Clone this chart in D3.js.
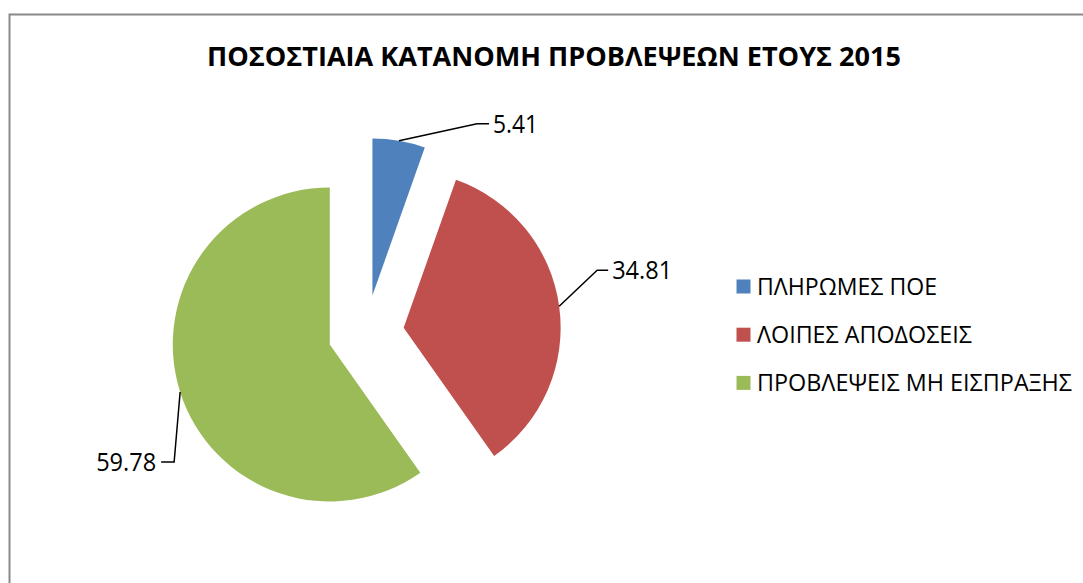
<!DOCTYPE html>
<html>
<head>
<meta charset="utf-8">
<script src="https://cdn.jsdelivr.net/npm/d3@7/dist/d3.min.js"></script>
<style>
  body { margin: 0; background: #fff; }
  text { font-family: "Open Sans", "Noto Sans", sans-serif; fill: #000; }
</style>
</head>
<body>
<div id="chart"></div>
<script>
// Data
const categories = ["ΠΛΗΡΩΜΕΣ ΠΟΕ", "ΛΟΙΠΕΣ ΑΠΟΔΟΣΕΙΣ", "ΠΡΟΒΛΕΨΕΙΣ ΜΗ ΕΙΣΠΡΑΞΗΣ"];
const values = [5.41, 34.81, 59.78];
const colors = ["#4F81BD", "#C0504D", "#9BBB59"];
const title = "ΠΟΣΟΣΤΙΑΙΑ ΚΑΤΑΝΟΜΗ ΠΡΟΒΛΕΨΕΩΝ ΕΤΟΥΣ 2015";

// Layout
const width = 1083, height = 583;
const cx = 366, cy = 333, radius = 157, explode = 38;

// Label leader line offsets (elbow relative to slice edge, then horizontal run)
const leaders = [
  {dx: 78, dy: -17, run: 12},
  {dx: 38, dy: -36, run: 11},
  {dx: -6, dy: 70, run: -13}
];
const legendWidths = [180, 215, 315];

const svg = d3.select("#chart").append("svg")
    .attr("width", width)
    .attr("height", height);

svg.append("rect")
    .attr("width", width).attr("height", height)
    .attr("fill", "#fff");

// Chart area border (continues off the right and bottom edges)
svg.append("rect")
    .attr("x", 9.5).attr("y", 14.5)
    .attr("width", width + 20).attr("height", height + 20)
    .attr("fill", "none")
    .attr("stroke", "#898989")
    .attr("stroke-width", 2);

// Title
svg.append("text")
    .attr("x", 554)
    .attr("y", 66)
    .attr("text-anchor", "middle")
    .attr("font-size", 26)
    .attr("font-weight", "bold")
    .attr("textLength", 694)
    .attr("lengthAdjust", "spacingAndGlyphs")
    .text(title);

// Pie
const pie = d3.pie().sort(null).value(d => d);
const arcs = pie(values);
const arc = d3.arc().innerRadius(0).outerRadius(radius);

const g = svg.append("g").attr("transform", `translate(${cx},${cy})`);

arcs.forEach((a, i) => {
  const mid = (a.startAngle + a.endAngle) / 2;
  const ox = Math.sin(mid) * explode;
  const oy = -Math.cos(mid) * explode;

  g.append("path")
      .attr("d", arc(a))
      .attr("transform", `translate(${ox},${oy})`)
      .attr("fill", colors[i]);

  // Leader line from the outer edge at the slice middle
  const sx = ox + Math.sin(mid) * radius;
  const sy = oy - Math.cos(mid) * radius;
  const L = leaders[i];
  const ex = sx + L.dx, ey = sy + L.dy;
  g.append("polyline")
      .attr("points", `${sx},${sy} ${ex},${ey} ${ex + L.run},${ey}`)
      .attr("fill", "none")
      .attr("stroke", "#000")
      .attr("stroke-width", 1.5);

  const right = L.run > 0;
  g.append("text")
      .attr("x", ex + L.run + (right ? 4 : -5))
      .attr("y", ey + 9)
      .attr("text-anchor", right ? "start" : "end")
      .attr("font-size", 25)
      .attr("textLength", i === 0 ? 45 : 60)
      .attr("lengthAdjust", "spacingAndGlyphs")
      .text(values[i].toFixed(2));
});

// Legend
const legend = svg.append("g").attr("transform", "translate(736.5,286.5)");
categories.forEach((c, i) => {
  legend.append("rect")
      .attr("x", 0)
      .attr("y", i * 48.2 - 7)
      .attr("width", 14)
      .attr("height", 14)
      .attr("fill", colors[i]);
  legend.append("text")
      .attr("x", 20.5)
      .attr("y", i * 48.2 + 8.5)
      .attr("font-size", 23)
      .attr("textLength", legendWidths[i])
      .attr("lengthAdjust", "spacingAndGlyphs")
      .text(c);
});
</script>
</body>
</html>
